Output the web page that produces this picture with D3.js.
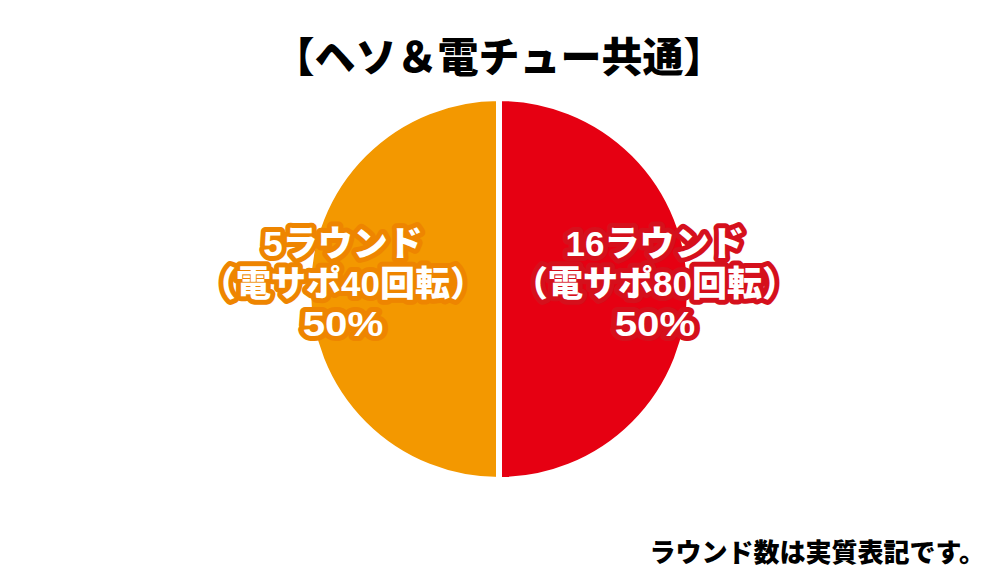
<!DOCTYPE html>
<html><head><meta charset="utf-8">
<script src="https://cdn.jsdelivr.net/npm/d3@7"></script>
<style>body{margin:0;background:#fff}svg{display:block}</style>
</head><body>
<script>
const title = "【ヘソ＆電チュー共通】";
const footnote = "ラウンド数は実質表記です。";
const categories = ["16ラウンド", "5ラウンド"];
const subLabels = ["（電サポ80回転）", "（電サポ40回転）"];
const values = [50, 50];
const colors = ["#e60012", "#f39800"];
const strokeColors = ["#d5101c", "#ee8500"];

const W = 1000, H = 577;
const cx = 499, cy = 289, R = 191;
const font = "'Noto Sans CJK JP', sans-serif";
const labelFont = "'Liberation Sans', 'Noto Sans CJK JP', sans-serif";

const svg = d3.select("body").append("svg").attr("width", W).attr("height", H);

svg.append("text").attr("x", cx).attr("y", 72).attr("text-anchor", "middle")
  .attr("font-family", font).attr("font-weight", 900).attr("font-size", 41)
  .attr("fill", "#000").text(title);

const pie = d3.pie().sort(null).value(d => d.v);
const data = pie(values.map((v, i) => ({v, i})));
const arc = d3.arc().innerRadius(0).outerRadius(R);
const labelArc = d3.arc().innerRadius(156).outerRadius(156);

const g = svg.append("g").attr("transform", `translate(${cx},${cy})`);
g.selectAll("path").data(data).join("path")
  .attr("d", arc).attr("fill", d => colors[d.data.i])
  .attr("stroke", "#fff").attr("stroke-width", 6).attr("stroke-linejoin", "miter");

const lbl = g.selectAll("text.lbl").data(data).join("text").attr("class", "lbl")
  .attr("transform", d => { const [x, y] = labelArc.centroid(d); return `translate(${x},${y - 5})`; })
  .attr("text-anchor", "middle")
  .attr("font-family", labelFont).attr("font-weight", 900).attr("font-size", 35)
  .attr("fill", "#fff").attr("stroke", d => strokeColors[d.data.i]).attr("stroke-width", 10)
  .attr("stroke-linejoin", "round").attr("paint-order", "stroke");

lbl.each(function(d) {
  const i = d.data.i;
  const lines = [categories[i], subLabels[i], d3.format(".0f")(values[i] / d3.sum(values) * 100) + "%"];
  const el = d3.select(this);
  lines.forEach((t, k) => {
    const ts = el.append("tspan").attr("x", 0).attr("y", (k - 1) * 40 + 12).text(t);
    const w = ts.node().getComputedTextLength();
    if (k === 1) ts.attr("textLength", 284).attr("lengthAdjust", "spacingAndGlyphs");
    if (k === 2) ts.attr("textLength", w * 1.15).attr("lengthAdjust", "spacingAndGlyphs");
  });
});

svg.append("text").attr("x", 985).attr("y", 562).attr("text-anchor", "end")
  .attr("font-family", font).attr("font-weight", 900).attr("font-size", 26)
  .attr("fill", "#000").text(footnote);
</script>
</body></html>
